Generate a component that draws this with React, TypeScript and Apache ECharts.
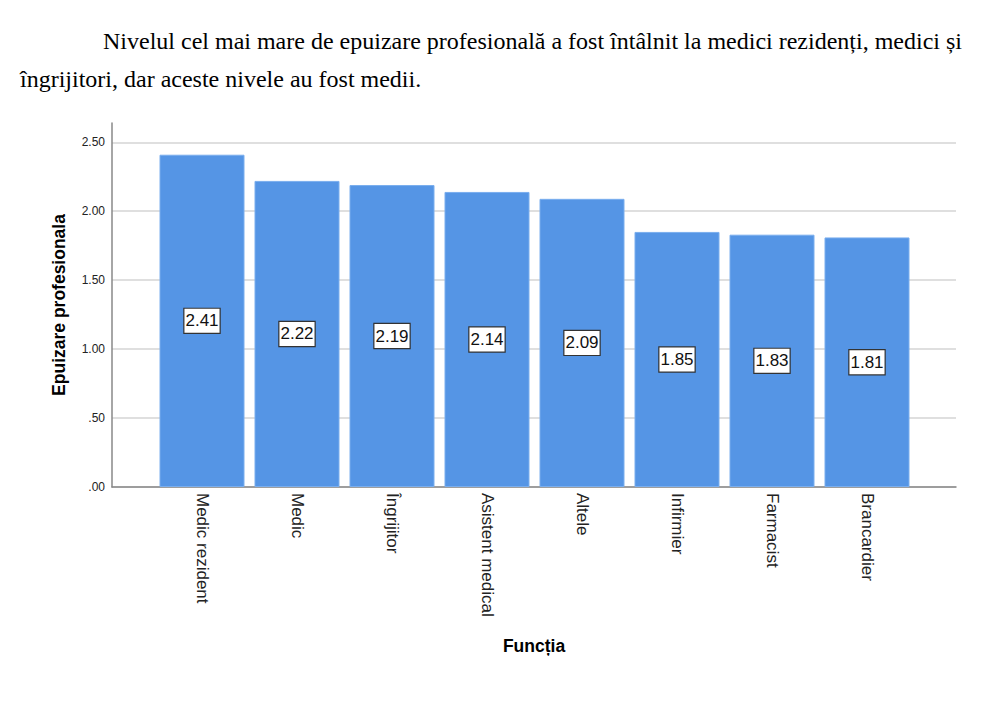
import React, { useEffect, useRef } from "react";
import * as echarts from "echarts";

const categories = [
  "Medic rezident",
  "Medic",
  "Îngrijitor",
  "Asistent medical",
  "Altele",
  "Infirmier",
  "Farmacist",
  "Brancardier",
];
const values = [2.41, 2.22, 2.19, 2.14, 2.09, 1.85, 1.83, 1.81];
const yTicks = [0, 0.5, 1, 1.5, 2, 2.5];
const titleLine1 =
  "Nivelul cel mai mare de epuizare profesională a fost întâlnit la medici rezidenți, medici și";
const titleLine2 = "îngrijitori, dar aceste nivele au fost medii.";
const yName = "Epuizare profesionala";
const xName = "Funcția";

const Y_MAX = 2.64;

function fmt(v: number): string {
  const s = v.toFixed(2);
  return s.startsWith("0") ? s.slice(1) : s;
}

export default function App() {
  const ref = useRef<HTMLDivElement>(null);
  useEffect(() => {
    document.body.style.margin = "0";
    if (!ref.current) return;
    const chart = echarts.init(ref.current, null, { renderer: "svg" });
    const sans = "Liberation Sans, Arial, sans-serif";
    const serifFont = "24px 'Liberation Serif', 'Times New Roman', serif";
    chart.setOption({
      animation: false,
      backgroundColor: "#ffffff",
      graphic: [
        {
          type: "text",
          left: 103,
          top: 29,
          style: { text: titleLine1, font: serifFont, fill: "#000" },
        },
        {
          type: "text",
          left: 20,
          top: 67,
          style: { text: titleLine2, font: serifFont, fill: "#000" },
        },
      ],
      grid: [
        { left: 112, right: 37, top: 123, bottom: 710 - 487, containLabel: false },
        { left: 154.5, width: 760, top: 123, bottom: 710 - 487, containLabel: false },
      ],
      xAxis: [
        {
          type: "category",
          gridIndex: 0,
          data: [""],
          axisLine: { show: true, lineStyle: { color: "#888888", width: 1.5 } },
          axisTick: { show: false },
          axisLabel: { show: false },
          name: xName,
          nameLocation: "middle",
          nameGap: 150,
          nameTextStyle: { fontFamily: sans, fontSize: 17.5, fontWeight: "bold", color: "#000" },
        },
        {
          type: "category",
          gridIndex: 1,
          data: categories,
          axisLine: { show: false },
          axisTick: { show: false },
          axisLabel: {
            rotate: -90,
            margin: 6,
            fontFamily: sans,
            fontSize: 17,
            color: "#222",
            interval: 0,
          },
        },
      ],
      yAxis: [
        {
          type: "value",
          gridIndex: 0,
          min: 0,
          max: Y_MAX,
          interval: 0.5,
          axisLine: { show: true, lineStyle: { color: "#888888", width: 1.5 } },
          axisTick: { show: false },
          splitLine: { show: true, showMaxLine: false, lineStyle: { color: "#d4d4d4", width: 1.5 } },
          axisLabel: {
            showMaxLabel: false,
            fontFamily: sans,
            fontSize: 12,
            color: "#222",
            margin: 7,
            formatter: (v: number) => (yTicks.some((t) => Math.abs(t - v) < 1e-6) ? fmt(v) : ""),
          },
          name: yName,
          nameLocation: "middle",
          nameGap: 44,
          nameTextStyle: { fontFamily: sans, fontSize: 17.5, fontWeight: "bold", color: "#000" },
        },
        {
          type: "value",
          gridIndex: 1,
          min: 0,
          max: Y_MAX,
          show: false,
          splitLine: { show: false },
        },
      ],
      series: [
        {
          type: "bar",
          xAxisIndex: 1,
          yAxisIndex: 1,
          data: values,
          barWidth: 85,
          itemStyle: { color: "#5595e5", borderColor: "#7aaeee", borderWidth: 1 },
          label: {
            show: true,
            position: "inside",
            formatter: (p: any) => fmt(p.value),
            fontFamily: sans,
            fontSize: 17,
            color: "#111",
            backgroundColor: "#ffffff",
            borderColor: "#333",
            borderWidth: 1.2,
            padding: [4, 1, 3, 1],
          },
        },
      ],
    });
    return () => chart.dispose();
  }, []);
  return <div ref={ref} style={{ width: 993, height: 710 }} />;
}
